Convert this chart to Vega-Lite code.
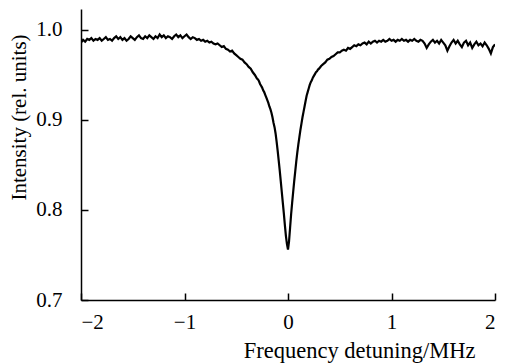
{
  "$schema": "https://vega.github.io/schema/vega-lite/v6.json",
  "width": 414,
  "height": 291,
  "autosize": {"type": "none"},
  "padding": {"left": 81, "top": 9, "right": 13, "bottom": 63},
  "background": "white",
  "config": {
    "view": {"stroke": null},
    "font": "Liberation Serif",
    "axis": {
      "grid": false,
      "domainColor": "black",
      "domainWidth": 1.5,
      "tickColor": "black",
      "tickWidth": 1.5,
      "tickSize": -7,
      "labelFont": "Liberation Serif",
      "labelFontSize": 21,
      "labelColor": "black",
      "titleFont": "Liberation Serif",
      "titleFontSize": 21,
      "titleFontWeight": "normal",
      "titleColor": "black"
    }
  },
  "data": {
    "values": [
      {"x": -2.00, "y": 0.986}, {"x": -1.98, "y": 0.989}, {"x": -1.96, "y": 0.987}, {"x": -1.94, "y": 0.990},
      {"x": -1.92, "y": 0.989}, {"x": -1.90, "y": 0.991}, {"x": -1.88, "y": 0.988}, {"x": -1.86, "y": 0.990},
      {"x": -1.84, "y": 0.989}, {"x": -1.82, "y": 0.991}, {"x": -1.80, "y": 0.988}, {"x": -1.78, "y": 0.990},
      {"x": -1.76, "y": 0.992}, {"x": -1.74, "y": 0.989}, {"x": -1.72, "y": 0.990}, {"x": -1.70, "y": 0.988},
      {"x": -1.68, "y": 0.991}, {"x": -1.66, "y": 0.993}, {"x": -1.64, "y": 0.990}, {"x": -1.62, "y": 0.992},
      {"x": -1.60, "y": 0.989}, {"x": -1.58, "y": 0.991}, {"x": -1.56, "y": 0.988}, {"x": -1.54, "y": 0.990},
      {"x": -1.52, "y": 0.993}, {"x": -1.50, "y": 0.991}, {"x": -1.48, "y": 0.989}, {"x": -1.46, "y": 0.992},
      {"x": -1.44, "y": 0.994}, {"x": -1.42, "y": 0.991}, {"x": -1.40, "y": 0.990}, {"x": -1.38, "y": 0.993},
      {"x": -1.36, "y": 0.991}, {"x": -1.34, "y": 0.994}, {"x": -1.32, "y": 0.992}, {"x": -1.30, "y": 0.990},
      {"x": -1.28, "y": 0.993}, {"x": -1.26, "y": 0.991}, {"x": -1.24, "y": 0.995}, {"x": -1.22, "y": 0.992},
      {"x": -1.20, "y": 0.994}, {"x": -1.18, "y": 0.991}, {"x": -1.16, "y": 0.993}, {"x": -1.14, "y": 0.992},
      {"x": -1.12, "y": 0.990}, {"x": -1.10, "y": 0.993}, {"x": -1.08, "y": 0.995}, {"x": -1.06, "y": 0.992},
      {"x": -1.04, "y": 0.994}, {"x": -1.02, "y": 0.991}, {"x": -1.00, "y": 0.993}, {"x": -0.98, "y": 0.995},
      {"x": -0.96, "y": 0.992}, {"x": -0.94, "y": 0.990}, {"x": -0.92, "y": 0.992}, {"x": -0.90, "y": 0.991},
      {"x": -0.88, "y": 0.989}, {"x": -0.86, "y": 0.990}, {"x": -0.84, "y": 0.988}, {"x": -0.82, "y": 0.989},
      {"x": -0.80, "y": 0.987}, {"x": -0.78, "y": 0.988}, {"x": -0.76, "y": 0.986}, {"x": -0.74, "y": 0.987},
      {"x": -0.72, "y": 0.985}, {"x": -0.70, "y": 0.984}, {"x": -0.68, "y": 0.985}, {"x": -0.66, "y": 0.983},
      {"x": -0.64, "y": 0.981}, {"x": -0.62, "y": 0.982}, {"x": -0.60, "y": 0.979}, {"x": -0.58, "y": 0.978},
      {"x": -0.56, "y": 0.976}, {"x": -0.54, "y": 0.977}, {"x": -0.52, "y": 0.974}, {"x": -0.50, "y": 0.972},
      {"x": -0.48, "y": 0.970}, {"x": -0.46, "y": 0.968}, {"x": -0.44, "y": 0.967}, {"x": -0.42, "y": 0.964},
      {"x": -0.40, "y": 0.962}, {"x": -0.38, "y": 0.959}, {"x": -0.36, "y": 0.957}, {"x": -0.34, "y": 0.953},
      {"x": -0.32, "y": 0.950}, {"x": -0.30, "y": 0.946}, {"x": -0.29, "y": 0.945}, {"x": -0.28, "y": 0.943},
      {"x": -0.27, "y": 0.940}, {"x": -0.26, "y": 0.938}, {"x": -0.25, "y": 0.936}, {"x": -0.24, "y": 0.933},
      {"x": -0.23, "y": 0.931}, {"x": -0.22, "y": 0.928}, {"x": -0.21, "y": 0.925}, {"x": -0.20, "y": 0.922},
      {"x": -0.19, "y": 0.919}, {"x": -0.18, "y": 0.915}, {"x": -0.17, "y": 0.912}, {"x": -0.16, "y": 0.908},
      {"x": -0.15, "y": 0.903}, {"x": -0.14, "y": 0.897}, {"x": -0.13, "y": 0.892}, {"x": -0.12, "y": 0.885},
      {"x": -0.11, "y": 0.876}, {"x": -0.10, "y": 0.866}, {"x": -0.09, "y": 0.855}, {"x": -0.08, "y": 0.844},
      {"x": -0.07, "y": 0.832}, {"x": -0.06, "y": 0.820}, {"x": -0.05, "y": 0.808}, {"x": -0.04, "y": 0.796},
      {"x": -0.03, "y": 0.783}, {"x": -0.02, "y": 0.771}, {"x": -0.01, "y": 0.762}, {"x": 0.00, "y": 0.756},
      {"x": 0.01, "y": 0.765}, {"x": 0.02, "y": 0.780}, {"x": 0.03, "y": 0.795}, {"x": 0.04, "y": 0.808},
      {"x": 0.05, "y": 0.820}, {"x": 0.06, "y": 0.832}, {"x": 0.07, "y": 0.843}, {"x": 0.08, "y": 0.854},
      {"x": 0.09, "y": 0.864}, {"x": 0.10, "y": 0.873}, {"x": 0.11, "y": 0.881}, {"x": 0.12, "y": 0.889},
      {"x": 0.13, "y": 0.896}, {"x": 0.14, "y": 0.903}, {"x": 0.15, "y": 0.909}, {"x": 0.16, "y": 0.915},
      {"x": 0.17, "y": 0.921}, {"x": 0.18, "y": 0.927}, {"x": 0.19, "y": 0.931}, {"x": 0.20, "y": 0.935},
      {"x": 0.21, "y": 0.939}, {"x": 0.22, "y": 0.942}, {"x": 0.23, "y": 0.944}, {"x": 0.24, "y": 0.947},
      {"x": 0.25, "y": 0.949}, {"x": 0.26, "y": 0.951}, {"x": 0.27, "y": 0.953}, {"x": 0.28, "y": 0.954},
      {"x": 0.29, "y": 0.956}, {"x": 0.30, "y": 0.957}, {"x": 0.32, "y": 0.960}, {"x": 0.34, "y": 0.962},
      {"x": 0.36, "y": 0.964}, {"x": 0.38, "y": 0.967}, {"x": 0.40, "y": 0.968}, {"x": 0.42, "y": 0.970},
      {"x": 0.44, "y": 0.971}, {"x": 0.46, "y": 0.973}, {"x": 0.48, "y": 0.975}, {"x": 0.50, "y": 0.975},
      {"x": 0.52, "y": 0.977}, {"x": 0.54, "y": 0.978}, {"x": 0.56, "y": 0.977}, {"x": 0.58, "y": 0.980},
      {"x": 0.60, "y": 0.979}, {"x": 0.62, "y": 0.981}, {"x": 0.64, "y": 0.983}, {"x": 0.66, "y": 0.982},
      {"x": 0.68, "y": 0.984}, {"x": 0.70, "y": 0.983}, {"x": 0.72, "y": 0.985}, {"x": 0.74, "y": 0.986},
      {"x": 0.76, "y": 0.984}, {"x": 0.78, "y": 0.987}, {"x": 0.80, "y": 0.985}, {"x": 0.82, "y": 0.987},
      {"x": 0.84, "y": 0.988}, {"x": 0.86, "y": 0.986}, {"x": 0.88, "y": 0.988}, {"x": 0.90, "y": 0.987},
      {"x": 0.92, "y": 0.989}, {"x": 0.94, "y": 0.987}, {"x": 0.96, "y": 0.988}, {"x": 0.98, "y": 0.990},
      {"x": 1.00, "y": 0.988}, {"x": 1.02, "y": 0.989}, {"x": 1.04, "y": 0.987}, {"x": 1.06, "y": 0.989},
      {"x": 1.08, "y": 0.988}, {"x": 1.10, "y": 0.990}, {"x": 1.12, "y": 0.988}, {"x": 1.14, "y": 0.989},
      {"x": 1.16, "y": 0.987}, {"x": 1.18, "y": 0.989}, {"x": 1.20, "y": 0.988}, {"x": 1.22, "y": 0.990},
      {"x": 1.24, "y": 0.988}, {"x": 1.26, "y": 0.987}, {"x": 1.28, "y": 0.989}, {"x": 1.30, "y": 0.988},
      {"x": 1.32, "y": 0.985}, {"x": 1.34, "y": 0.980}, {"x": 1.36, "y": 0.984}, {"x": 1.38, "y": 0.987},
      {"x": 1.40, "y": 0.989}, {"x": 1.42, "y": 0.986}, {"x": 1.44, "y": 0.988}, {"x": 1.46, "y": 0.985},
      {"x": 1.48, "y": 0.989}, {"x": 1.50, "y": 0.986}, {"x": 1.52, "y": 0.983}, {"x": 1.54, "y": 0.977},
      {"x": 1.56, "y": 0.982}, {"x": 1.58, "y": 0.986}, {"x": 1.60, "y": 0.989}, {"x": 1.62, "y": 0.985},
      {"x": 1.64, "y": 0.988}, {"x": 1.66, "y": 0.984}, {"x": 1.68, "y": 0.981}, {"x": 1.70, "y": 0.986},
      {"x": 1.72, "y": 0.988}, {"x": 1.74, "y": 0.983}, {"x": 1.76, "y": 0.986}, {"x": 1.78, "y": 0.980},
      {"x": 1.80, "y": 0.984}, {"x": 1.82, "y": 0.987}, {"x": 1.84, "y": 0.983}, {"x": 1.86, "y": 0.985},
      {"x": 1.88, "y": 0.982}, {"x": 1.90, "y": 0.986}, {"x": 1.92, "y": 0.983}, {"x": 1.94, "y": 0.979},
      {"x": 1.96, "y": 0.974}, {"x": 1.98, "y": 0.981}, {"x": 2.00, "y": 0.984}
    ]
  },
  "mark": {"type": "line", "color": "black", "strokeWidth": 2.2, "interpolate": "linear", "clip": true},
  "encoding": {
    "x": {
      "field": "x",
      "type": "quantitative",
      "scale": {"domain": [-2, 2], "nice": false, "zero": false},
      "axis": {
        "values": [-2, -1, 0, 1, 2],
        "labelExpr": "replace(format(datum.value, 'd'), '-', '\u2212')",
        "labelPadding": 18,
        "title": "Frequency detuning/MHz",
        "titleFontSize": 22.5,
        "titleAnchor": null,
        "titleAlign": "right",
        "titleBaseline": "alphabetic",
        "titleX": 394,
        "titleY": 57
      }
    },
    "y": {
      "field": "y",
      "type": "quantitative",
      "scale": {"domain": [0.7, 1.0233], "nice": false, "zero": false},
      "axis": {
        "values": [0.7, 0.8, 0.9, 1.0],
        "format": ".1f",
        "labelPadding": 26,
        "title": "Intensity (rel. units)",
        "titleAlign": "center",
        "titleBaseline": "alphabetic",
        "titleAngle": -90,
        "titleX": -56,
        "titleY": 108
      }
    }
  }
}
